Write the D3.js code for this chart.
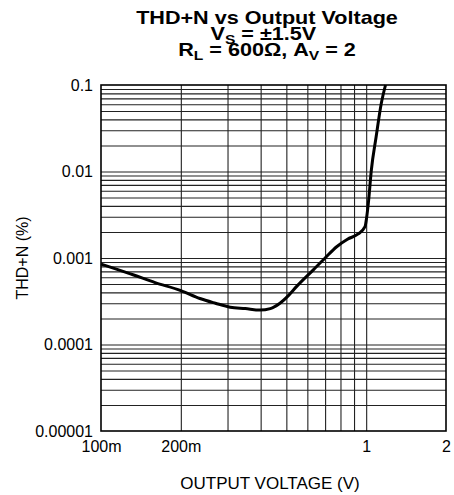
<!DOCTYPE html>
<html>
<head>
<meta charset="utf-8">
<script src="https://cdn.jsdelivr.net/npm/d3@7"></script>
<style>
  body { margin: 0; background: #fff; }
  text { font-family: "Liberation Sans", Arial, sans-serif; fill: #000; }
</style>
</head>
<body>
<div class="chart"></div>
<script>
// curve
var voltage = [0.1, 0.115, 0.132, 0.16, 0.2, 0.236, 0.27, 0.307, 0.35, 0.398, 0.435, 0.473, 0.51, 0.547, 0.632, 0.7, 0.774, 0.85, 0.933, 0.99, 1.005, 1.019, 1.046, 1.09, 1.14, 1.183];
var thdn = [0.00085, 0.00074, 0.00064, 0.00052, 0.00042, 0.00034, 0.0003, 0.00027, 0.00026, 0.00025, 0.00026, 0.0003, 0.00037, 0.00047, 0.00073, 0.001, 0.00135, 0.00165, 0.0019, 0.0023, 0.003, 0.0043, 0.0104, 0.025, 0.061, 0.1];

var xTicks = [0.1, 0.2, 1, 2];
var xTickLabels = ["100m", "200m", "1", "2"];
var yTicks = [0.00001, 0.0001, 0.001, 0.01, 0.1];
var yTickLabels = ["0.00001", "0.0001", "0.001", "0.01", "0.1"];

var W = 454, H = 495;
var plotL = 101, plotR = 446, plotT = 85, plotB = 431;

var svg = d3.select(".chart").append("svg")
    .attr("width", W)
    .attr("height", H);

var x = d3.scaleLog().domain([0.1, 2]).range([plotL, plotR]);
var y = d3.scaleLog().domain([0.00001, 0.1]).range([plotB, plotT]);

// grid
var xGrid = x.ticks().filter(function (d) { return d > 0.1 && d < 2; });
var yGrid = y.ticks().filter(function (d) { return d > 0.00001 && d < 0.1; });

svg.append("g")
    .attr("transform", "translate(0," + plotB + ")")
    .call(d3.axisBottom(x).tickValues(xGrid).tickSize(-(plotB - plotT)).tickFormat(""))
    .call(function (g) { g.select(".domain").remove(); })
    .selectAll("line").attr("stroke", "#222").attr("stroke-width", 1.1);

svg.append("g")
    .attr("transform", "translate(" + plotL + ",0)")
    .call(d3.axisLeft(y).tickValues(yGrid).tickSize(-(plotR - plotL)).tickFormat(""))
    .call(function (g) { g.select(".domain").remove(); })
    .selectAll("line").attr("stroke", "#222").attr("stroke-width", 1.1);

svg.append("rect")
    .attr("x", plotL).attr("y", plotT)
    .attr("width", plotR - plotL).attr("height", plotB - plotT)
    .attr("fill", "none").attr("stroke", "#000").attr("stroke-width", 1.6);

// tick labels
svg.append("g")
    .attr("transform", "translate(0," + plotB + ")")
    .call(d3.axisBottom(x).tickValues(xTicks).tickSize(0).tickPadding(10)
        .tickFormat(function (d, i) { return xTickLabels[i]; }))
    .call(function (g) { g.select(".domain").remove(); })
    .selectAll("text")
    .style("font-family", "Liberation Sans, Arial, sans-serif")
    .style("font-size", "16px");

svg.append("g")
    .attr("transform", "translate(" + (plotL - 8) + ",0)")
    .call(d3.axisLeft(y).tickValues(yTicks).tickSize(0).tickPadding(0)
        .tickFormat(function (d, i) { return yTickLabels[i]; }))
    .call(function (g) { g.select(".domain").remove(); })
    .selectAll("text")
    .style("font-family", "Liberation Sans, Arial, sans-serif")
    .style("font-size", "16px");

// curve
var line = d3.line()
    .x(function (d, i) { return x(voltage[i]); })
    .y(function (d) { return y(d); })
    .curve(d3.curveMonotoneX);

svg.append("path")
    .datum(thdn)
    .attr("d", line)
    .attr("fill", "none")
    .attr("stroke", "#000")
    .attr("stroke-width", 3)
    .attr("stroke-linejoin", "round");

// axis titles
svg.append("text")
    .attr("x", 270).attr("y", 489)
    .attr("text-anchor", "middle")
    .style("font-size", "17px")
    .text("OUTPUT VOLTAGE (V)");

svg.append("text")
    .attr("transform", "translate(28,258) rotate(-90)")
    .attr("text-anchor", "middle")
    .style("font-size", "16px")
    .text("THD+N (%)");

// title, a bit wider than the font
var title = svg.append("g")
    .attr("transform", "translate(267,0) scale(1.2,1)")
    .style("font-weight", "bold")
    .style("font-size", "18px");

title.append("text")
    .attr("x", 0).attr("y", 24)
    .attr("text-anchor", "middle")
    .text("THD+N vs Output Voltage");

var t2 = title.append("text")
    .attr("x", -3).attr("y", 40)
    .attr("text-anchor", "middle");
t2.append("tspan").text("V");
t2.append("tspan").attr("dy", 4).style("font-size", "13px").text("S");
t2.append("tspan").attr("dy", -4).text(" = \u00b11.5V");

var t3 = title.append("text")
    .attr("x", 0).attr("y", 56)
    .attr("text-anchor", "middle");
t3.append("tspan").text("R");
t3.append("tspan").attr("dy", 4).style("font-size", "13px").text("L");
t3.append("tspan").attr("dy", -4).text(" = 600\u03a9, A");
t3.append("tspan").attr("dy", 4).style("font-size", "13px").text("V");
t3.append("tspan").attr("dy", -4).text(" = 2");
</script>
</body>
</html>
